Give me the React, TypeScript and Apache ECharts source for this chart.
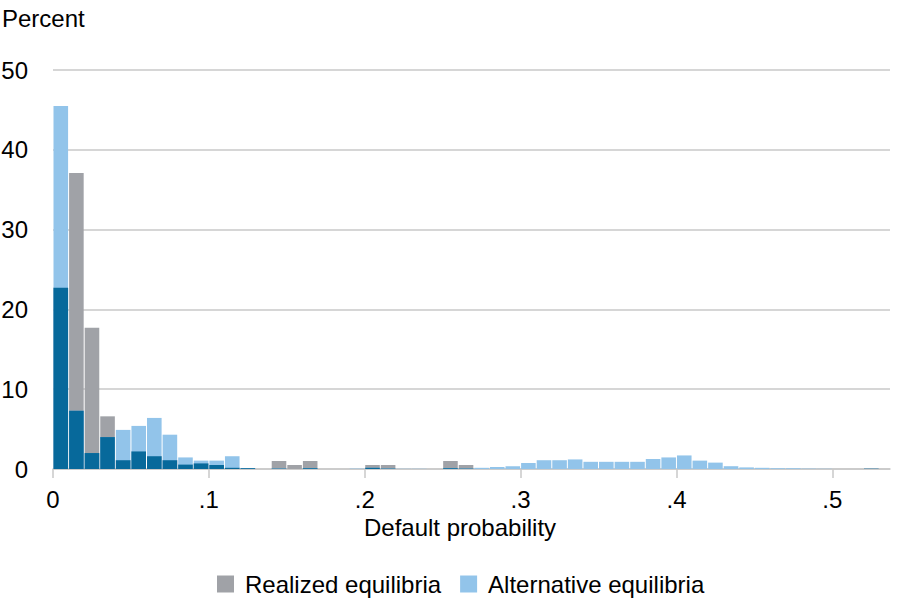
import React, { useEffect, useRef } from "react";
import * as echarts from "echarts";

const BIN_WIDTH = 0.01;
const X_TICKS = [0, 0.1, 0.2, 0.3, 0.4, 0.5];
const SERIES_NAMES = ["Realized equilibria", "Alternative equilibria"];
const X_TITLE = "Default probability";
const Y_TITLE = "Percent";

// Percent of observations in each 0.01-wide bin of default probability (bins start at 0)
const realized = [
  22.7, 37.1, 17.7, 6.6, 1.1, 2.2, 1.6, 1.1, 0.55, 0.7,
  0.5, 0.15, 0.1, 0, 1.0, 0.5, 1.0, 0, 0, 0,
  0.5, 0.5, 0, 0, 0, 1.0, 0.5, 0, 0, 0,
  0, 0, 0, 0, 0, 0, 0, 0, 0, 0,
  0, 0, 0, 0, 0, 0, 0, 0, 0, 0,
  0, 0, 0.05, 0,
];
const alternative = [
  45.5, 7.3, 2.0, 4.0, 4.9, 5.4, 6.4, 4.3, 1.45, 1.05,
  1.05, 1.6, 0.1, 0, 0.05, 0, 0.1, 0, 0, 0.05,
  0.15, 0.05, 0.03, 0.03, 0, 0.1, 0.05, 0.15, 0.25, 0.35,
  0.75, 1.1, 1.1, 1.2, 0.9, 0.9, 0.9, 0.9, 1.25, 1.45,
  1.7, 1.05, 0.8, 0.35, 0.2, 0.15, 0.1, 0.1, 0.05, 0.03,
  0, 0, 0.03, 0,
];

const GRAY = "#a0a2a7";
const LIGHT = "#92c4ea";
const DARK = "#07699b";
const FONT = "Liberation Sans, Arial, sans-serif";
const FS = 24;

function toBins(values: number[]) {
  return values.map((v, i) => [i * BIN_WIDTH, (i + 1) * BIN_WIDTH, v]);
}

function renderBar(color: string) {
  return (params: any, api: any) => {
    const x0 = api.value(0);
    const x1 = api.value(1);
    const v = api.value(2);
    if (!(v > 0)) return null;
    const p0 = api.coord([x0, v]);
    const p1 = api.coord([x1, 0]);
    return {
      type: "rect",
      shape: {
        x: p0[0] + 0.5,
        y: p0[1],
        width: p1[0] - p0[0] - 1,
        height: p1[1] - p0[1],
      },
      style: { fill: color },
    };
  };
}

export default function App() {
  const ref = useRef<HTMLDivElement>(null);
  useEffect(() => {
    if (!ref.current) return;
    const chart = echarts.init(ref.current, null, { renderer: "svg" });
    const overlap = realized.map((r, i) => Math.min(r, alternative[i]));
    const fmt = (v: number) => (v === 0 ? "0" : v.toFixed(1).replace(/^0/, ""));
    chart.setOption({
      animation: false,
      textStyle: { fontFamily: FONT },
      grid: {
        left: 53,
        right: 30,
        top: 70,
        bottom: 131,
        containLabel: false,
        outerBoundsMode: "none",
      },
      graphic: [
        {
          type: "text",
          left: 2,
          top: 6,
          style: { text: Y_TITLE, fontSize: FS, fill: "#000", fontFamily: FONT },
        },
        {
          type: "text",
          x: 460,
          y: 515,
          style: {
            text: X_TITLE,
            fontSize: FS,
            fill: "#000",
            fontFamily: FONT,
            align: "center",
            verticalAlign: "top",
          },
        },
      ],
      legend: {
        data: SERIES_NAMES,
        top: 567,
        left: 212,
        icon: "rect",
        itemWidth: 17,
        itemHeight: 17,
        itemGap: 19,
        textStyle: { fontSize: FS, color: "#000", fontFamily: FONT, padding: [0, 0, 0, 6] },
      },
      xAxis: {
        type: "value",
        min: 0,
        max: 0.537,
        interval: 0.1,
        axisLine: { show: true, lineStyle: { color: "#c8c8c8", width: 1.5 } },
        axisTick: {
          show: true,
          length: 9,
          customValues: X_TICKS,
          lineStyle: { color: "#c8c8c8", width: 1.5 },
        },
        axisLabel: {
          customValues: X_TICKS,
          formatter: fmt,
          fontSize: FS,
          color: "#000",
          fontFamily: FONT,
          margin: 18,
        },
        splitLine: { show: false },
      },
      yAxis: {
        type: "value",
        min: 0,
        max: 50,
        interval: 10,
        axisLine: { show: false },
        axisTick: { show: false },
        axisLabel: { fontSize: FS, color: "#000", fontFamily: FONT, margin: 25 },
        splitLine: { lineStyle: { color: "#c8c8c8", width: 1.5 } },
      },
      series: [
        {
          name: SERIES_NAMES[0],
          type: "custom",
          renderItem: renderBar(GRAY),
          itemStyle: { color: GRAY },
          encode: { x: [0, 1], y: 2 },
          data: toBins(realized),
          clip: true,
        },
        {
          name: SERIES_NAMES[1],
          type: "custom",
          renderItem: renderBar(LIGHT),
          itemStyle: { color: LIGHT },
          encode: { x: [0, 1], y: 2 },
          data: toBins(alternative),
          clip: true,
        },
        {
          name: "Overlap",
          type: "custom",
          renderItem: renderBar(DARK),
          itemStyle: { color: DARK },
          encode: { x: [0, 1], y: 2 },
          data: toBins(overlap),
          clip: true,
        },
      ],
    });
    return () => chart.dispose();
  }, []);
  return (
    <div
      ref={ref}
      style={{ position: "fixed", left: 0, top: 0, width: 920, height: 600, background: "#fff" }}
    />
  );
}
